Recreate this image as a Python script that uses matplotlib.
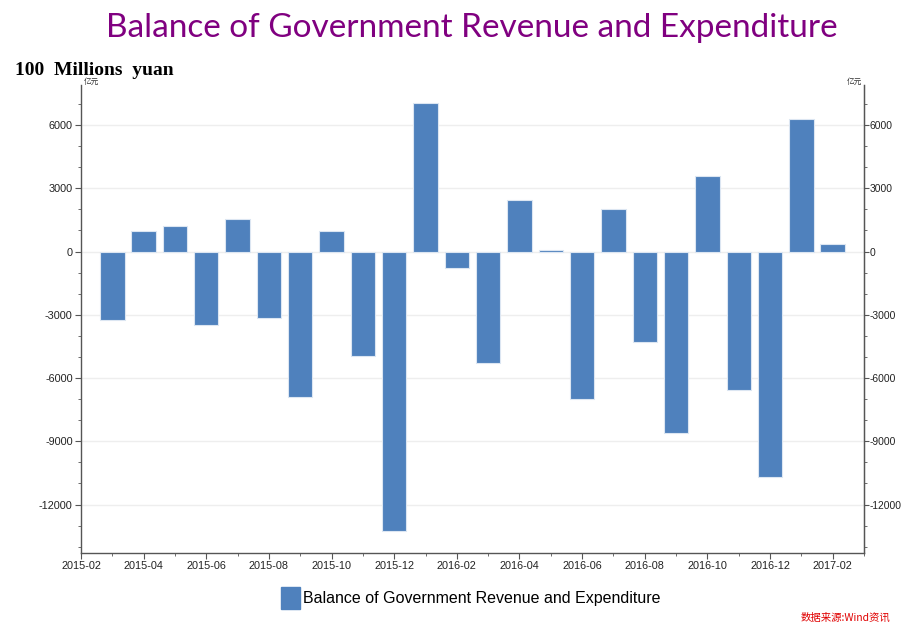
import matplotlib
matplotlib.use("Agg")
import matplotlib.pyplot as plt
from matplotlib.ticker import MultipleLocator, FixedLocator

# Monthly balance of government revenue and expenditure (100 million yuan)
months = ["2015-03", "2015-04", "2015-05", "2015-06", "2015-07", "2015-08",
          "2015-09", "2015-10", "2015-11", "2015-12", "2016-01", "2016-02",
          "2016-03", "2016-04", "2016-05", "2016-06", "2016-07", "2016-08",
          "2016-09", "2016-10", "2016-11", "2016-12", "2017-01", "2017-02"]
balance = [-3240, 962, 1232, -3476, 1548, -3176,
           -6906, 962, -4977, -13272, 7048, -790,
           -5276, 2450, 50, -7015, 2038, -4313,
           -8594, 3570, -6556, -10713, 6290, 346]
tick_labels = ["2015-02", "2015-04", "2015-06", "2015-08", "2015-10", "2015-12",
               "2016-02", "2016-04", "2016-06", "2016-08", "2016-10", "2016-12",
               "2017-02"]
y_ticks = [6000, 3000, 0, -3000, -6000, -9000, -12000]

bar_color = "#4F81BD"
sans = ["Liberation Sans", "DejaVu Sans"]
tick_font = {"family": sans, "fontsize": 7.8, "color": "#222222"}

fig = plt.figure(figsize=(9.02, 6.29), dpi=100)
ax = fig.add_axes([0.0898, 0.1208, 0.8681, 0.7441])

# month index: 0 = 2015-02
x = list(range(1, len(months) + 1))
ax.bar(x, balance, width=0.78, color=bar_color, edgecolor="#DCE6F2",
       linewidth=0.8, zorder=3)

ax.set_xlim(0, 25)
ax.set_ylim(-14300, 7900)

ax.xaxis.set_major_locator(FixedLocator(list(range(0, 25, 2))))
ax.xaxis.set_minor_locator(MultipleLocator(1))
ax.set_xticklabels(tick_labels, **tick_font)
ax.yaxis.set_major_locator(FixedLocator(y_ticks))
ax.yaxis.set_minor_locator(MultipleLocator(1000))
ax.set_yticklabels([str(v) for v in y_ticks], **tick_font)

ax.grid(axis="y", which="major", color="#EEEEEE", linewidth=1, zorder=0)
ax.spines["top"].set_visible(False)
for s in ["left", "right", "bottom"]:
    ax.spines[s].set_color("#555555")
    ax.spines[s].set_linewidth(1.0)
ax.tick_params(axis="both", which="major", length=4, color="#555555", pad=2)
ax.tick_params(axis="both", which="minor", length=2.5, color="#555555")

# right-hand mirror axis
ax2 = ax.twinx()
ax2.set_ylim(ax.get_ylim())
ax2.yaxis.set_major_locator(FixedLocator(y_ticks))
ax2.yaxis.set_minor_locator(MultipleLocator(1000))
ax2.set_yticklabels([str(v) for v in y_ticks], family=sans, fontsize=7.4,
                    color="#222222")
ax2.tick_params(axis="y", which="major", length=3.5, color="#555555", pad=0.5)
ax2.tick_params(axis="y", which="minor", length=2.5, color="#555555")
for s in ["top", "left", "bottom"]:
    ax2.spines[s].set_visible(False)
ax2.spines["right"].set_color("#555555")

cjk = ["Noto Sans CJK SC", "DejaVu Sans"]
fig.text(0.0898 + 0.003, 0.864, "亿元", family=cjk, fontsize=5.5,
         ha="left", va="bottom", color="#333333")
fig.text(0.9579 - 0.002, 0.864, "亿元", family=cjk, fontsize=5.5,
         ha="right", va="bottom", color="#333333")

fig.text(0.523, 0.955, "Balance of Government Revenue and Expenditure",
         family=["Lato", "DejaVu Sans"], fontsize=24, color="#800080",
         ha="center", va="center")
fig.text(0.017, 0.888, "100  Millions  yuan", family=["Liberation Serif"],
         fontsize=14, fontweight="bold", ha="left", va="center")

# legend
handle = plt.Rectangle((0, 0), 1, 1, color=bar_color)
fig.legend([handle], ["Balance of Government Revenue and Expenditure"],
           loc="center", bbox_to_anchor=(0.522, 0.049), frameon=False,
           prop={"family": sans, "size": 11.5}, handlelength=1.2,
           handleheight=1.8, handletextpad=0.2)

fig.text(0.987, 0.01, "数据来源:Wind资讯", family=cjk, fontsize=7.5,
         color="#E00000", ha="right", va="bottom")

fig.savefig("out.png", dpi=100)
